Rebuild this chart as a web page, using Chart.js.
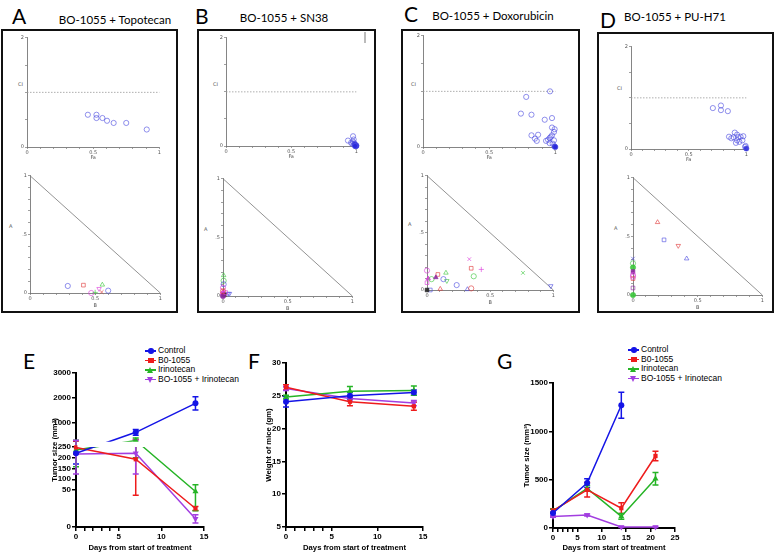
<!DOCTYPE html>
<html><head><meta charset="utf-8">
<script src="https://cdn.jsdelivr.net/npm/chart.js@4/dist/chart.umd.min.js"></script>
<style>
html,body{margin:0;padding:0;width:775px;height:552px;overflow:hidden;background:#fff;}
body{position:relative;font-family:"Liberation Sans",Arial,sans-serif;}
canvas{position:absolute;}
.box{position:absolute;border:2px solid #111;box-sizing:border-box;}
.t{position:absolute;white-space:nowrap;line-height:1;}
.letter{font-family:Lato,"Open Sans",sans-serif;font-size:21px;color:#000;}
.ptitle{font-family:Lato,"Open Sans",sans-serif;font-size:11.5px;color:#000;transform:translateX(-50%);}
.small{font-family:"DejaVu Sans",sans-serif;font-size:5px;color:#555;}
.lg{position:absolute;font-family:"Liberation Sans",Arial,sans-serif;font-size:8.5px;line-height:9.5px;color:#000;}
.row{position:relative;height:9.5px;padding-left:13px;white-space:nowrap;}
.ln{position:absolute;left:0;top:4px;width:11px;height:1.5px;}
.mk{position:absolute;}
</style></head><body>

<div class="t letter" style="left:12px;top:5px">A</div>
<div class="t letter" style="left:195px;top:5px">B</div>
<div class="t letter" style="left:404px;top:3px">C</div>
<div class="t letter" style="left:600px;top:9px">D</div>
<div class="t letter" style="left:23px;top:350px">E</div>
<div class="t letter" style="left:248px;top:350px">F</div>
<div class="t letter" style="left:497px;top:350px">G</div>

<div class="t ptitle" style="left:115px;top:14px">BO-1055 + Topotecan</div>
<div class="t ptitle" style="left:284px;top:12px">BO-1055 + SN38</div>
<div class="t ptitle" style="left:493px;top:10px">BO-1055 + Doxorubicin</div>
<div class="t ptitle" style="left:675px;top:11px">BO-1055 + PU-H71</div>

<div class="box" style="left:1px;top:29px;width:177px;height:284px"></div>
<div class="box" style="left:197px;top:29px;width:179px;height:284px"></div>
<div class="box" style="left:401px;top:29px;width:179px;height:284px"></div>
<div class="box" style="left:597px;top:32px;width:177px;height:281px"></div>
<div style="position:absolute;left:364px;top:32px;width:2px;height:11px;background:#bbb"></div>

<div class="t small" style="left:18px;top:82px">CI</div>
<div class="t small" style="left:213px;top:82px">CI</div>
<div class="t small" style="left:411px;top:82px">CI</div>
<div class="t small" style="left:617px;top:86px">CI</div>
<div class="t small" style="left:9px;top:224px">A</div>
<div class="t small" style="left:204px;top:227px">A</div>
<div class="t small" style="left:408px;top:222px">A</div>
<div class="t small" style="left:614px;top:226px">A</div>

<div class="lg" id="legE" style="left:145px;top:346px"></div>
<div class="lg" id="legG" style="left:628px;top:345px"></div>

<script>
// ---------------- DATA ----------------
// Panel A (Topotecan) - CI vs Fa
const faA = [0.46, 0.525, 0.525, 0.57, 0.605, 0.655, 0.75, 0.905];
const ciA = [0.59, 0.59, 0.53, 0.53, 0.48, 0.44, 0.44, 0.32];
// Panel A normalized isobologram (B, A)
const isoBA = [0.29, 0.41, 0.555, 0.47, 0.50, 0.53, 0.55, 0.60];
const isoAA = [0.06, 0.067, 0.07, 0.0, 0.005, 0.036, 0.008, 0.02];

// Panel B (SN38)
const faB = [0.936, 0.975, 0.98, 0.96, 0.97, 0.985, 0.99, 0.995, 1.0, 0.985, 0.995, 0.99, 0.975, 1.0, 0.99];
const ciB = [0.10, 0.18, 0.12, 0.06, 0.04, 0.03, 0.02, 0.01, 0.01, 0.05, 0.0, 0.03, 0.08, 0.0, 0.0];
const isoBB = [0.005, 0.005, 0.005, 0.0, 0.0, 0.04, 0.05, 0.0, 0.01, 0.0, 0.02, 0.0];
const isoAB = [0.176, 0.13, 0.10, 0.07, 0.05, 0.02, 0.02, 0.02, 0.01, 0.0, 0.03, 0.04];

// Panel C (Doxorubicin)
const faC = [0.96, 0.78, 0.74, 0.82, 0.92, 0.975, 0.975, 0.995, 0.99, 0.975, 0.965, 0.87, 0.82, 0.846, 0.86, 0.93, 0.945, 0.957, 0.99, 0.98, 0.995, 1.0, 0.957];
const ciC = [1.0, 0.90, 0.60, 0.58, 0.49, 0.52, 0.35, 0.32, 0.27, 0.21, 0.18, 0.22, 0.21, 0.15, 0.11, 0.11, 0.13, 0.16, 0.12, 0.06, 0.01, 0.0, 0.07];
const isoBC = [0.0, 0.01, 0.086, 0.15, 0.335, 0.35, 0.43, 0.37, 0.76, 0.98, 0.235, 0.32, 0.35, 0.105, 0.026, 0.157, 0.13, 0.036, 0.0, 0.0, 0.07];
const isoAC = [0.17, 0.10, 0.136, 0.15, 0.27, 0.19, 0.18, 0.12, 0.15, 0.035, 0.043, 0.006, 0.014, 0.009, 0.0, 0.08, 0.095, 0.095, 0.064, 0.0, 0.11];

// Panel D (PU-H71)
const faD = [0.71, 0.78, 0.78, 0.84, 0.90, 0.92, 0.85, 0.87, 0.92, 0.95, 0.966, 0.974, 0.94, 0.91, 0.994, 1.0, 0.99, 0.89, 0.93];
const ciD = [0.80, 0.85, 0.76, 0.74, 0.32, 0.28, 0.24, 0.21, 0.17, 0.24, 0.17, 0.25, 0.14, 0.12, 0.06, 0.01, 0.04, 0.23, 0.23];
const isoBD = [0.19, 0.24, 0.35, 0.415, 0.0, 0.0, 0.0, 0.0, 0.0, 0.0, 0.0, 0.0, 0.0];
const isoAD = [0.62, 0.47, 0.42, 0.31, 0.31, 0.27, 0.235, 0.20, 0.17, 0.14, 0.155, 0.06, 0.0];

// Panel E - tumor size (mm3), segmented axis
const daysE = [0, 7, 14];
const controlE = [221, 628, 1788];
const controlEerr = [50, 115, 265];
const boE = [248, 193, 25];
const boEerr = [32, 150, 2.7];
const irinoE = [236, 300, 48];
const irinoEerr = [78, 100, 26];
const comboE = [217, 221, 11];
const comboEerr = [93, 97, 5.6];
const tickValsE = [0, 50, 100, 150, 200, 250, 1000, 2000, 3000];

// Panel F - weight of mice (gm)
const daysF = [0, 7, 14];
const controlF = [24.1, 25.0, 25.5];
const controlFerr = [0.8, 0.5, 0.4];
const boF = [26.3, 24.1, 23.4];
const boFerr = [0.4, 0.6, 0.6];
const irinoF = [24.8, 25.7, 25.8];
const irinoFerr = [0.3, 0.7, 0.7];
const comboF = [26.1, 24.6, 23.9];
const comboFerr = [0.3, 0.4, 0.4];

// Panel G - tumor size (mm3)
const daysG = [0, 7, 14, 21];
const controlG = [155, 465, 1270];
const controlGerr = [45, 45, 135];
const boG = [180, 395, 205, 745];
const boGerr = [20, 75, 55, 50];
const irinoG = [175, 410, 120, 510];
const irinoGerr = [20, 30, 30, 65];
const comboG = [120, 135, 10, 10];
const comboGerr = [10, 10, 5, 5];

const seriesNames = ['Control', 'B0-1055', 'Irinotecan', 'BO-1055 + Irinotecan'];

// ---------------- STYLE ----------------
const BLUE = '#1414e6', RED = '#ee1c1c', GREEN = '#26b426', PURPLE = '#a23ee0';
const SER_COL = [BLUE, RED, GREEN, PURPLE];
const SER_PT = ['circle', 'rect', 'triangle', 'triangle'];
const SER_ROT = [0, 0, 0, 180];
const SER_R = [3, 3, 3.5, 3.5];
const CB = 'rgba(80,80,225,0.9)', CR = 'rgba(225,60,60,0.9)', CG = 'rgba(60,200,60,0.9)',
      CM = 'rgba(220,60,220,0.9)', CK = 'rgba(40,40,40,0.9)', CP = 'rgba(140,40,160,0.9)';

const styA = {s:['circle','rect','triangle','circle','cross','triangle','crossRot','circle'], r:[0,0,0,0,0,180,0,0], c:[CB,CR,CG,CM,CG,CM,CR,CB]};
const styB = {s:['triangle','circle','circle','circle','crossRot','triangle','triangle','circle','rect','circle','rect','circle'], r:[0,0,0,0,0,180,180,0,0,0,0,0], c:[CG,CG,CB,CM,CR,CB,CB,CM,CK,CP,CM,CR], f:[0,0,0,0,0,0,0,1,1,1,0,0]};
const styC = {s:['circle','triangle','rect','triangle','crossRot','rect','cross','circle','crossRot','triangle','circle','triangle','circle','triangle','rect','triangle','circle','circle','rect','rect','triangle'], r:[0,0,0,0,0,0,0,0,0,180,0,0,0,0,0,180,0,0,0,0,0], c:[CM,CM,CR,CG,CM,CR,CM,CG,CG,CB,CB,CB,CR,CR,CB,CG,CB,CG,CM,CK,CP], f:[0,1,0,0,0,0,0,0,0,0,0,0,0,0,0,0,0,0,0,1,1]};
const styD = {s:['triangle','rect','triangle','triangle','crossRot','circle','circle','rect','circle','rect','circle','rect','circle'], r:[0,0,180,0,0,0,0,0,0,0,0,0,0], c:[CR,CB,CR,CB,CB,CG,CG,CP,CM,CR,CM,CP,CG], f:[0,0,0,0,0,0,1,1,0,0,0,0,1]};

// ---------------- HELPERS ----------------
Chart.defaults.font.family = "'Liberation Sans', Arial, sans-serif";

function chartAt(area, pad, cfg) {
  const c = document.createElement('canvas');
  const L = Math.round(area.l - pad.l), T = Math.round(area.t - pad.t);
  const W = Math.round(area.r) - Math.round(area.l) + pad.l + pad.r;
  const H = Math.round(area.b) - Math.round(area.t) + pad.t + pad.b;
  c.width = W; c.height = H;
  c.style.left = L + 'px'; c.style.top = T + 'px';
  c.style.width = W + 'px'; c.style.height = H + 'px';
  document.body.appendChild(c);
  const o = cfg.options;
  o.responsive = false; o.maintainAspectRatio = false; o.animation = false;
  o.devicePixelRatio = 1; o.events = [];
  o.layout = {padding: {top: pad.t, right: pad.r, left: 0, bottom: 0}};
  o.scales.x.afterFit = s => { s.height = pad.b; };
  o.scales.y.afterFit = s => { s.width = pad.l; };
  o.plugins = Object.assign({legend: {display: false}, tooltip: {enabled: false}}, o.plugins || {});
  return new Chart(c, cfg);
}

function fmt(v) { return String(+v.toFixed(2)); }

function smallScale(min, max, ticks, labels, title) {
  return {
    type: 'linear', min, max,
    afterBuildTicks: s => { s.ticks = ticks.map(v => ({value: v})); },
    ticks: {autoSkip: false, maxRotation: 0, padding: 1, color: '#555',
      font: {size: 5, family: 'DejaVu Sans'},
      callback: v => labels.some(l => Math.abs(l - v) < 1e-6) ? fmt(v) : ''},
    grid: {drawOnChartArea: false, drawTicks: true, tickLength: 2, color: '#777', lineWidth: 0.7},
    border: {display: true, color: '#666', width: 0.8},
    title: title ? {display: true, text: title, color: '#555', padding: 0, font: {size: 5, family: 'DejaVu Sans'}} : {display: false}
  };
}
const tenth = [0,0.1,0.2,0.3,0.4,0.5,0.6,0.7,0.8,0.9,1];

function ciChart(area, fa, ci) {
  const pts = fa.map((x, i) => ({x, y: ci[i]}));
  return chartAt(area, {l: 8, r: 4, t: 4, b: 14}, {
    type: 'scatter',
    data: {datasets: [
      {data: pts, pointStyle: 'circle', pointRadius: 2.6, pointBorderWidth: 0.7,
       pointBorderColor: CB,
       pointBackgroundColor: pts.map((p) => (p.x >= 0.985 && p.y <= 0.03) ? 'rgba(40,40,220,0.9)' : 'rgba(0,0,0,0)'),
       clip: false},
      {type: 'line', data: [{x: 0, y: 1}, {x: 1, y: 1}], borderColor: '#999', borderWidth: 0.8,
       borderDash: [1.5, 1.5], pointRadius: 0, clip: false}
    ]},
    options: {scales: {
      x: smallScale(0, 1, tenth, [0, 0.5, 1], 'Fa'),
      y: smallScale(0, 2, [0, 0.5, 1, 1.5, 2], [0, 2], null)
    }}
  });
}

function isoChart(area, bs, as, sty) {
  const pts = bs.map((x, i) => ({x, y: as[i]}));
  return chartAt(area, {l: 8, r: 4, t: 4, b: 16}, {
    type: 'scatter',
    data: {datasets: [
      {data: pts, pointStyle: sty.s, pointRotation: sty.r, pointRadius: 2.6, pointBorderWidth: 0.7,
       pointBorderColor: sty.c,
       pointBackgroundColor: sty.c.map((c, i) => (sty.f && sty.f[i]) ? c : 'rgba(0,0,0,0)'),
       clip: false},
      {type: 'line', data: [{x: 0, y: 1}, {x: 1, y: 0}], borderColor: '#777', borderWidth: 0.8,
       pointRadius: 0, clip: false}
    ]},
    options: {scales: {
      x: smallScale(0, 1, tenth, [0, 0.5, 1], 'B'),
      y: smallScale(0, 1, tenth, [0, 0.5, 1], null)
    }}
  });
}

// error bars plugin (uses chart scales); transform kept on the raw dataset object
const errorBars = {
  id: 'errorBars',
  beforeDatasetsDraw(chart) {
    const ctx = chart.ctx, xs = chart.scales.x, ys = chart.scales.y;
    chart.data.datasets.forEach(ds => {
      if (!ds.errVals) return;
      const tf = ds.yTransform || (v => v);
      ctx.save();
      ctx.strokeStyle = ds.borderColor; ctx.lineWidth = 1.5;
      ds.rawVals.forEach((v, j) => {
        const e = ds.errVals[j];
        if (v == null || !e) return;
        const px = xs.getPixelForValue(ds.xVals[j]);
        const yt = ys.getPixelForValue(tf(v + e)), yb = ys.getPixelForValue(tf(Math.max(v - e, 0)));
        ctx.beginPath();
        ctx.moveTo(px, yt); ctx.lineTo(px, yb);
        ctx.moveTo(px - 3, yt); ctx.lineTo(px + 3, yt);
        ctx.moveTo(px - 3, yb); ctx.lineTo(px + 3, yb);
        ctx.stroke();
      });
      ctx.restore();
    });
  }
};

// white gap band for broken axis
const axisGap = {
  id: 'axisGap',
  afterDatasetsDraw(chart) {
    const bands = chart.data.gapBands;
    if (!bands) return;
    const ctx = chart.ctx, ys = chart.scales.y, a = chart.chartArea;
    ctx.save(); ctx.fillStyle = '#fff';
    bands.forEach(b => {
      const y1 = ys.getPixelForValue(b[1]), y2 = ys.getPixelForValue(b[0]);
      ctx.fillRect(a.left + 1.5, y1, a.right - a.left + 8, y2 - y1);
    });
    ctx.restore();
  }
};

function gpScale(min, max, tickVals, labelFn, title) {
  return {
    type: 'linear', min, max,
    afterBuildTicks: s => { s.ticks = tickVals.map(v => ({value: v})); },
    ticks: {autoSkip: false, maxRotation: 0, padding: 1, color: '#000',
      font: {size: 8, weight: 'bold', family: "'Liberation Sans', Arial"},
      callback: labelFn},
    grid: {drawOnChartArea: false, drawTicks: true, tickLength: 4, color: '#000', lineWidth: 1.5},
    border: {display: true, color: '#000', width: 2},
    title: {display: true, text: title, color: '#000', padding: 0,
      font: {size: 7.7, weight: 'bold', family: "'Liberation Sans', Arial"}}
  };
}

function gpDatasets(days, seriesList, errList, tf) {
  return seriesList.map((vals, k) => ({
    type: 'line',
    data: vals.map((v, i) => ({x: days[i], y: tf(v)})),
    rawVals: vals, errVals: errList[k], xVals: days, yTransform: tf,
    borderColor: SER_COL[k], backgroundColor: SER_COL[k], borderWidth: 1.5,
    pointStyle: SER_PT[k], pointRotation: SER_ROT[k], pointRadius: SER_R[k],
    pointBorderWidth: 0, pointBackgroundColor: SER_COL[k],
    fill: false, tension: 0, clip: false
  }));
}

// ---------------- TOP PANELS ----------------
ciChart({l: 27, r: 160, t: 37, b: 147}, faA, ciA);
isoChart({l: 30, r: 161, t: 175, b: 293}, isoBA, isoAA, styA);
ciChart({l: 226, r: 357, t: 37, b: 146}, faB, ciB);
isoChart({l: 223, r: 353, t: 178, b: 296}, isoBB, isoAB, styB);
ciChart({l: 423, r: 556, t: 35, b: 147}, faC, ciC);
isoChart({l: 427, r: 554, t: 175, b: 290}, isoBC, isoAC, styC);
ciChart({l: 631, r: 747, t: 46, b: 149}, faD, ciD);
isoChart({l: 633, r: 763, t: 177, b: 295}, isoBD, isoAD, styD);

// ---------------- E (segmented axis) ----------------
// axis segments: value range -> pixel offset from the x axis
const segE = [{from: 0, to: 50, p0: 0, p1: 37}, {from: 50, to: 250, p0: 37, p1: 80}, {from: 250, to: 3000, p0: 85.25, p1: 154}];
function tE(v) {
  for (const s of segE) if (v <= s.to) return s.p0 + (v - s.from) / (s.to - s.from) * (s.p1 - s.p0);
  const s = segE[segE.length - 1];
  return s.p0 + (v - s.from) / (s.to - s.from) * (s.p1 - s.p0);
}
const dayTicks15 = [0, 1, 2, 3, 4, 5, 10, 15];
const dayTicks25 = [0, 1, 2, 3, 4, 5, 10, 15, 20, 25];
const lab5 = v => (v % 5 === 0) ? String(v) : '';

const dataE = {datasets: gpDatasets(daysE, [controlE, boE, irinoE, comboE], [controlEerr, boEerr, irinoEerr, comboEerr], tE)};
dataE.gapBands = [[80, 85.25]];
chartAt({l: 76, r: 204, t: 373, b: 527}, {l: 26, r: 8, t: 6, b: 26}, {
  type: 'line',
  data: dataE,
  options: {
    scales: {
      x: gpScale(0, 15, dayTicks15, lab5, 'Days from start of treatment'),
      y: gpScale(0, 154, tickValsE.map(tE), v => {
        const m = tickValsE.find(t => Math.abs(tE(t) - v) < 1e-6);
        return m === undefined ? '' : String(m);
      }, 'Tumor size (mm³)')
    }
  },
  plugins: [errorBars, axisGap]
});

// ---------------- F ----------------
chartAt({l: 286, r: 423, t: 363, b: 527}, {l: 22, r: 8, t: 6, b: 26}, {
  type: 'line',
  data: {datasets: gpDatasets(daysF, [controlF, boF, irinoF, comboF], [controlFerr, boFerr, irinoFerr, comboFerr], v => v)},
  options: {scales: {
    x: gpScale(0, 15, dayTicks15, lab5, 'Days from start of treatment'),
    y: gpScale(5, 30, [5, 10, 15, 20, 25, 30], v => String(v), 'Weight of mice (gm)')
  }},
  plugins: [errorBars]
});

// ---------------- G ----------------
chartAt({l: 553, r: 675, t: 383, b: 528}, {l: 31, r: 8, t: 6, b: 25}, {
  type: 'line',
  data: {datasets: gpDatasets(daysG, [controlG, boG, irinoG, comboG], [controlGerr, boGerr, irinoGerr, comboGerr], v => v)},
  options: {scales: {
    x: gpScale(0, 25, dayTicks25, lab5, 'Days from start of treatment'),
    y: gpScale(0, 1500, [0, 500, 1000, 1500], v => String(v), 'Tumor size (mm³)')
  }},
  plugins: [errorBars]
});

// ---------------- legends ----------------
function legend(id) {
  const el = document.getElementById(id);
  seriesNames.forEach((n, k) => {
    const row = document.createElement('div'); row.className = 'row';
    const ln = document.createElement('span'); ln.className = 'ln'; ln.style.background = SER_COL[k];
    const mk = document.createElement('span'); mk.className = 'mk';
    const c = SER_COL[k];
    if (k === 0) Object.assign(mk.style, {left: '3px', top: '2px', width: '5.5px', height: '5.5px', borderRadius: '50%', background: c});
    if (k === 1) Object.assign(mk.style, {left: '3px', top: '2px', width: '5.5px', height: '5.5px', background: c});
    if (k === 2) Object.assign(mk.style, {left: '2px', top: '1.5px', width: 0, height: 0, borderLeft: '3.5px solid transparent', borderRight: '3.5px solid transparent', borderBottom: '6px solid ' + c});
    if (k === 3) Object.assign(mk.style, {left: '2px', top: '2px', width: 0, height: 0, borderLeft: '3.5px solid transparent', borderRight: '3.5px solid transparent', borderTop: '6px solid ' + c});
    row.appendChild(ln); row.appendChild(mk);
    row.appendChild(document.createTextNode(n));
    el.appendChild(row);
  });
}
legend('legE'); legend('legG');
</script>
</body></html>
